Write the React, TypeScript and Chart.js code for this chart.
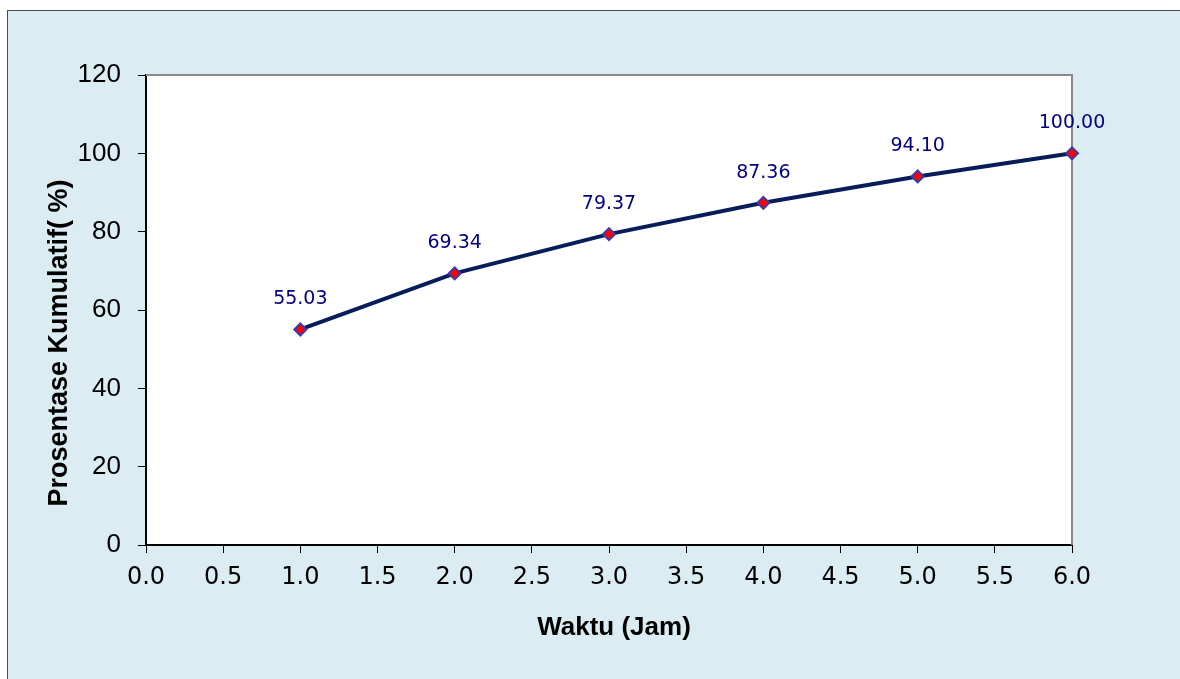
import React, { useEffect, useRef } from 'react';
import { Chart, registerables } from 'chart.js';

Chart.register(...registerables);

const hours = [1, 2, 3, 4, 5, 6];
const cumulative = [55.03, 69.34, 79.37, 87.36, 94.1, 100.0];
const xTitle = 'Waktu (Jam)';
const yTitle = 'Prosentase Kumulatif( %)';

const plotFrame = {
  id: 'plotFrame',
  beforeDraw(chart: any) {
    const { ctx, chartArea: a } = chart;
    ctx.save();
    ctx.fillStyle = '#ffffff';
    ctx.fillRect(a.left, a.top, a.right - a.left, a.bottom - a.top);
    ctx.restore();
  },
  beforeDatasetsDraw(chart: any) {
    const { ctx, chartArea: a } = chart;
    ctx.save();
    ctx.strokeStyle = '#8a8a8a';
    ctx.lineWidth = 2;
    ctx.beginPath();
    ctx.moveTo(a.left, a.top);
    ctx.lineTo(a.right, a.top);
    ctx.lineTo(a.right, a.bottom);
    ctx.stroke();
    ctx.restore();
  },
};

const axisTitles = {
  id: 'axisTitles',
  afterDraw(chart: any) {
    const { ctx, chartArea: a } = chart;
    ctx.save();
    ctx.fillStyle = '#000';
    ctx.textAlign = 'center';
    ctx.textBaseline = 'middle';
    ctx.font = 'bold 26px "Liberation Sans"';
    ctx.fillText(xTitle, (a.left + a.right) / 2 + 5, a.bottom + 83);
    ctx.translate(60, (a.top + a.bottom) / 2 + 33);
    ctx.rotate(-Math.PI / 2);
    ctx.font = 'bold 27px "Liberation Sans"';
    ctx.fillText(yTitle, 0, 0);
    ctx.restore();
  },
};

const valueLabels = {
  id: 'valueLabels',
  afterDatasetsDraw(chart: any) {
    const { ctx } = chart;
    const meta = chart.getDatasetMeta(0);
    ctx.save();
    ctx.fillStyle = '#000080';
    ctx.font = '19px "DejaVu Sans"';
    ctx.textAlign = 'center';
    ctx.textBaseline = 'middle';
    meta.data.forEach((pt: any, i: number) => {
      ctx.fillText(cumulative[i].toFixed(2), pt.x, pt.y - 30);
    });
    ctx.restore();
  },
};

export default function App() {
  const ref = useRef<HTMLCanvasElement>(null);

  useEffect(() => {
    if (!ref.current) return;
    const chart = new Chart(ref.current, {
      type: 'line',
      data: {
        datasets: [
          {
            data: hours.map((h, i) => ({ x: h, y: cumulative[i] })),
            borderColor: '#061d5a',
            borderWidth: 4,
            pointStyle: 'rectRot',
            pointRadius: 6,
            pointBackgroundColor: '#ff0000',
            pointBorderColor: '#3a3aa8',
            pointBorderWidth: 2,
            tension: 0,
            clip: false as any,
          },
        ],
      },
      options: {
        animation: false,
        responsive: false,
        layout: { padding: { top: 75, right: 108, left: 0, bottom: 0 } },
        plugins: {
          legend: { display: false },
          tooltip: { enabled: false },
        },
        scales: {
          x: {
            type: 'linear',
            min: 0,
            max: 6,
            afterFit: (s: any) => {
              s.height = 134;
            },
            ticks: {
              stepSize: 0.5,
              autoSkip: false,
              maxRotation: 0,
              padding: 10,
              color: '#000',
              font: { family: '"DejaVu Sans"', size: 24 },
              callback: (v: any) => Number(v).toFixed(1),
            },
            grid: { drawOnChartArea: false, tickLength: 8, color: '#000', lineWidth: 1 },
            border: { color: '#000', width: 2 },
            title: { display: false },
          },
          y: {
            type: 'linear',
            min: 0,
            max: 120,
            afterFit: (s: any) => {
              s.width = 146;
            },
            ticks: {
              stepSize: 20,
              padding: 17,
              color: '#000',
              font: { family: '"Liberation Sans"', size: 26 },
            },
            grid: { drawOnChartArea: false, tickLength: 8, color: '#000', lineWidth: 1 },
            border: { color: '#000', width: 2 },
            title: { display: false },
          },
        },
      },
      plugins: [plotFrame, valueLabels, axisTitles],
    });
    return () => chart.destroy();
  }, []);

  return (
    <div style={{ position: 'fixed', left: 0, top: 0, width: 1180, height: 679, overflow: 'hidden' }}>
      <div
        style={{
          position: 'absolute',
          left: 7,
          top: 10,
          width: 1200,
          height: 700,
          background: '#dbedf3',
          border: '1px solid #4a4a4a',
        }}
      />
      <canvas
        ref={ref}
        width={1180}
        height={679}
        style={{ position: 'absolute', left: 0, top: 0, display: 'block' }}
      />
    </div>
  );
}
